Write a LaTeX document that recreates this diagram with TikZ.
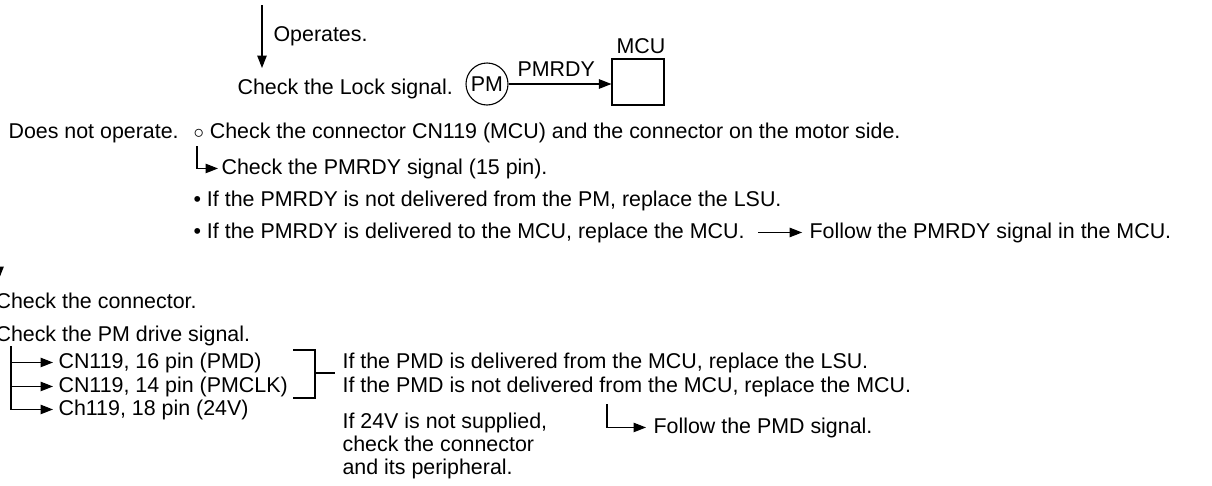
\documentclass[tikz,border=0pt]{standalone}
\usepackage{fontspec}
\setmainfont{Liberation Sans}
\usetikzlibrary{arrows.meta,positioning}

\tikzset{every picture/.style={line width=1.1pt}}
\tikzset{
  txt/.style={anchor=base west, inner sep=0pt},
  arr/.style={-{Triangle[length=12.5pt,width=9.5pt]}},
}

\begin{document}
\begin{tikzpicture}[x=1pt,y=-1pt,font=\fontsize{21.4}{23}\selectfont]
    \useasboundingbox (0,0) rectangle (1212,485);
    \node[txt] (operates) at (273,41) {Operates.};
    \node[txt] (lock) at (237,94) {Check the Lock signal.};
    \coordinate (optop) at (262,5);
    \coordinate (opend) at (262,68);
    \draw[arr] (optop) -- (opend);
    \node[circle, draw, minimum size=42pt, inner sep=0pt] (pm) at (487,84) {PM};
    \node[draw, minimum width=52pt, minimum height=46pt] (mcu) at (638,82) {};
    \draw[arr] (pm.east) -- (pm.east -| mcu.west);
    \node[txt] (pmrdy) at (517,76) {PMRDY};
    \node[anchor=base, inner sep=0pt] (mcuname) at (641,53) {MCU};
    \node[txt] (noop) at (8,138) {Does not operate.};
    \node[txt] (conn) at (193,138) {$\circ$ Check the connector CN119 (MCU) and the connector on the motor side.};
    \node[txt] (sig) at (221,174) {Check the PMRDY signal (15 pin).};
    \coordinate (c1) at (197,146);
    \draw[arr] (c1) |- ([xshift=-3pt]sig.west);
    \node[txt] (b1) at (193,206) {• If the PMRDY is not delivered from the PM, replace the LSU.};
    \node[txt] (b2) at (193,238) {• If the PMRDY is delivered to the MCU, replace the MCU.};
    \node[right=64pt of b2.base east, anchor=base west, inner sep=0pt] (follow1) {Follow the PMRDY signal in the MCU.};
    \draw[arr] ([xshift=13pt]b2.east) -- ([xshift=-7pt]follow1.west);
    \coordinate (lt) at (-1,230);
    \coordinate (lb) at (-1,279);
    \draw[arr] (lt) -- (lb);
    \node[txt] (chk) at (-5,308) {Check the connector.};
    \node[txt] (drive) at (-5,341) {Check the PM drive signal.};
    \node[txt] (r1) at (58,368) {CN119, 16 pin (PMD)};
    \node[txt] (r2) at (58,392) {CN119, 14 pin (PMCLK)};
    \node[txt] (r3) at (58,415) {Ch119, 18 pin (24V)};
    \coordinate (tt) at (11,346);
    \draw[arr] (tt |- r1.west) -- ([xshift=-5pt]r1.west);
    \draw[arr] (tt |- r2.west) -- ([xshift=-5pt]r2.west);
    \draw[arr] (tt) |- ([xshift=-5pt]r3.west);
    \node[txt] (pmd1) at (342,368) {If the PMD is delivered from the MCU, replace the LSU.};
    \node[txt] (pmd2) at (342,392) {If the PMD is not delivered from the MCU, replace the MCU.};
    \coordinate (brt) at (293,350);
    \coordinate (brm) at (315,373);
    \coordinate (brb) at (293,398);
    \draw (brt) -| (brm) |- (brb);
    \draw (brm) -- ([xshift=-7pt]brm -| pmd1.west);
    \node[anchor=north west, align=left, inner sep=0pt] (v24) at (342,412) {If 24V is not supplied,\\check the connector\\and its peripheral.};
    \node[txt] (follow2) at (653,433) {Follow the PMD signal.};
    \coordinate (fa) at (607,404);
    \draw[arr] (fa) |- ([xshift=-7pt]follow2.west);
\end{tikzpicture}
\end{document}
